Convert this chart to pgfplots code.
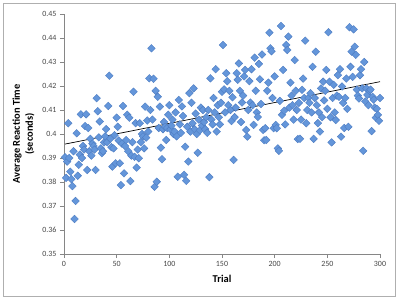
\documentclass[border=0pt]{standalone}
\usepackage{pgfplots}
\pgfplotsset{compat=1.18}
\usepackage{pgfplotstable}
\usepackage{fontspec}
\setmainfont{Carlito}
\definecolor{mkfill}{RGB}{100,150,218}
\definecolor{mkdraw}{RGB}{78,125,195}
\definecolor{axgray}{RGB}{134,134,134}
\definecolor{framegray}{RGB}{175,175,175}
\definecolor{ticktext}{RGB}{70,70,70}
\pgfplotstableread{
x y
1 0.3903
2 0.3817
3 0.3885
4 0.4045
5 0.3900
6 0.3843
7 0.3812
8 0.3783
9 0.3928
10 0.3646
11 0.3721
12 0.4003
13 0.3826
14 0.3872
15 0.3914
16 0.4082
17 0.3900
18 0.3950
19 0.3935
20 0.4033
21 0.4082
22 0.3850
23 0.4025
24 0.3928
25 0.3980
26 0.3910
27 0.3960
28 0.3950
29 0.3935
30 0.3850
31 0.4149
32 0.4095
33 0.3986
34 0.4052
35 0.3940
36 0.3920
37 0.3928
38 0.3965
39 0.3990
40 0.4020
41 0.3966
42 0.4117
43 0.4243
44 0.3980
45 0.3945
46 0.3864
47 0.3940
48 0.3995
49 0.3878
50 0.4068
51 0.4030
52 0.3973
53 0.3878
54 0.3787
55 0.3960
56 0.4117
57 0.3836
58 0.3950
59 0.3975
60 0.4080
61 0.3928
62 0.4068
63 0.3804
64 0.3910
65 0.3966
66 0.4176
67 0.3905
68 0.4045
69 0.3860
70 0.3935
71 0.3899
72 0.4045
73 0.3966
74 0.4000
75 0.3990
76 0.3940
77 0.4114
78 0.3985
79 0.4056
80 0.4010
81 0.4232
82 0.4100
83 0.4357
84 0.4060
85 0.4230
86 0.3780
87 0.4180
88 0.3801
89 0.4155
90 0.4025
91 0.4114
92 0.3943
93 0.3895
94 0.4020
95 0.4050
96 0.4030
97 0.3975
98 0.4025
99 0.4080
100 0.4120
101 0.4020
102 0.4035
103 0.4060
104 0.4000
105 0.4010
106 0.4090
107 0.3990
108 0.3822
109 0.4142
110 0.4040
111 0.4005
112 0.4115
113 0.4075
114 0.3830
115 0.3947
116 0.3805
117 0.4030
118 0.3885
119 0.4170
120 0.4010
121 0.4130
122 0.4045
123 0.4190
124 0.4020
125 0.4085
126 0.4000
127 0.3922
128 0.4060
129 0.4015
130 0.4110
131 0.4035
132 0.4100
133 0.4050
134 0.4020
135 0.4070
136 0.4005
137 0.4100
138 0.3820
139 0.4232
140 0.4060
141 0.4040
142 0.4150
143 0.4090
144 0.4270
145 0.4010
146 0.4120
147 0.4070
148 0.4040
149 0.4130
150 0.4176
151 0.4371
152 0.4186
153 0.4090
154 0.4253
155 0.4220
156 0.4120
157 0.4180
158 0.4100
159 0.4054
160 0.4153
161 0.3892
162 0.4070
163 0.4110
164 0.4253
165 0.4226
166 0.4294
167 0.4180
168 0.4050
169 0.4131
170 0.4160
171 0.4240
172 0.4267
173 0.4017
174 0.3989
175 0.4100
176 0.4220
177 0.4131
178 0.4270
179 0.4120
180 0.4038
181 0.4318
182 0.4180
183 0.4090
184 0.4071
185 0.4292
186 0.4228
187 0.4125
188 0.4331
189 0.4017
190 0.3974
191 0.4024
192 0.3975
193 0.4180
194 0.4214
195 0.4422
196 0.4357
197 0.4345
198 0.4150
199 0.4024
200 0.4240
201 0.4038
202 0.4024
203 0.3940
204 0.3930
205 0.4138
206 0.4450
207 0.4080
208 0.4267
209 0.4097
210 0.4040
211 0.4371
212 0.4350
213 0.4406
214 0.4110
215 0.4214
216 0.4160
217 0.4120
218 0.4060
219 0.4308
220 0.4180
221 0.4100
222 0.3979
223 0.4130
224 0.3980
225 0.4060
226 0.4184
227 0.4231
228 0.4150
229 0.4389
230 0.4045
231 0.4100
232 0.4150
233 0.4130
234 0.4170
235 0.4090
236 0.4280
237 0.3980
238 0.4150
239 0.4343
240 0.4120
241 0.4045
242 0.4090
243 0.4010
244 0.4190
245 0.4070
246 0.4218
247 0.4140
248 0.4180
249 0.4267
250 0.4105
251 0.4424
252 0.4218
253 0.4070
254 0.3965
255 0.4150
256 0.4205
257 0.4090
258 0.4058
259 0.4160
260 0.4245
261 0.4155
262 0.4270
263 0.3989
264 0.4198
265 0.4130
266 0.4025
267 0.4150
268 0.4231
269 0.4105
270 0.4030
271 0.4445
272 0.4280
273 0.4343
274 0.4238
275 0.4436
276 0.4364
277 0.4330
278 0.4185
279 0.4160
280 0.4148
281 0.4245
282 0.4270
283 0.4190
284 0.3930
285 0.4300
286 0.4136
287 0.4190
288 0.4163
289 0.4120
290 0.4180
291 0.4185
292 0.4012
293 0.4155
294 0.4143
295 0.4110
296 0.4068
297 0.4105
298 0.4080
299 0.4055
300 0.4150
}\datatable
\begin{document}
\begin{tikzpicture}
\begin{axis}[
  at={(64bp,44bp)}, anchor=south west,
  scale only axis, width=316bp, height=240bp,
  xmin=0, xmax=300, ymin=0.35, ymax=0.45,
  axis x line*=bottom, axis y line*=left,
  axis line style={draw=axgray, line width=0.6pt},
  xtick={0,50,...,300},
  ytick={0.35,0.36,0.37,0.38,0.39,0.40,0.41,0.42,0.43,0.44,0.45},
  tick align=outside, major tick length=4bp,
  tick style={draw=axgray, line width=0.6pt},
  /pgf/number format/assume math mode=true,
  yticklabel style={/pgf/number format/fixed, /pgf/number format/precision=2, font=\fontsize{8}{9}\selectfont, text=ticktext},
  xticklabel style={font=\fontsize{8}{9}\selectfont, text=ticktext},
  scaled y ticks=false,
  xlabel={Trial},
  xlabel style={font=\bfseries\fontsize{10.5}{12}\selectfont, at={(axis description cs:0.5,0)}, anchor=center, yshift=-25bp},
  ylabel={Average Reaction Time\\(seconds)},
  ylabel style={font=\bfseries\fontsize{10.5}{13}\selectfont, align=center, at={(axis description cs:-0.128,0.5)}, anchor=center},
  clip=false,
]
\addplot[only marks, mark=square*, mark size=2.7bp, mark options={rotate=45, fill=mkfill, draw=mkdraw, line width=0.4pt}] table[x=x, y=y] {\datatable};
\addplot[black, line width=0.7pt] coordinates {(1,0.3958) (300,0.4218)};
\end{axis}
\draw[framegray, line width=0.8pt] (3bp,2bp) rectangle (395bp,295bp);
\pgfresetboundingbox
\path[use as bounding box] (0,0) rectangle (398bp,298bp);
\end{tikzpicture}
\end{document}
